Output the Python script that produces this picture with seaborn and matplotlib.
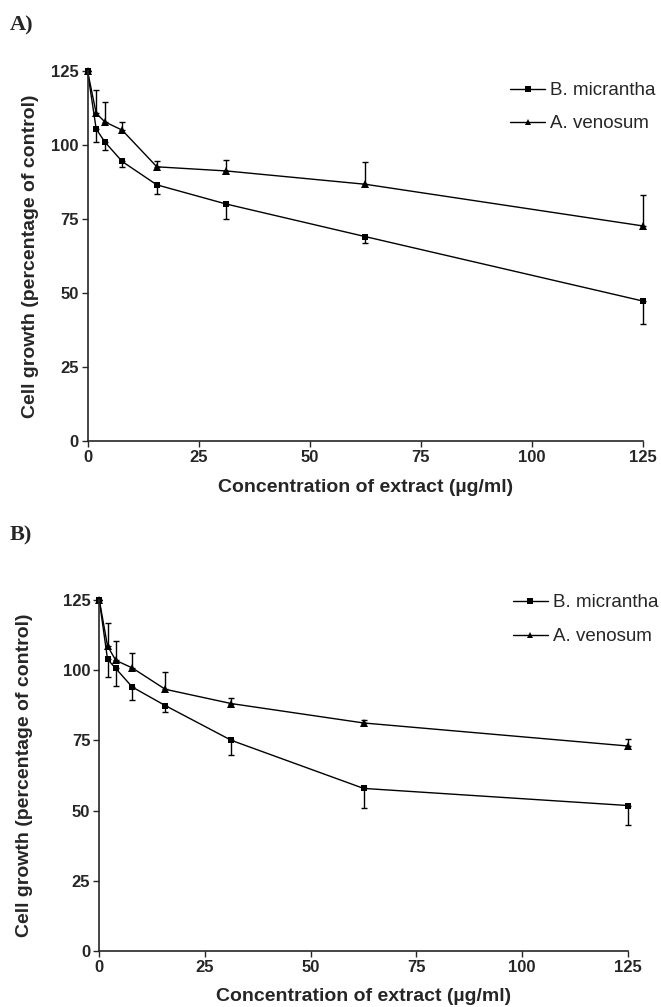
import numpy as np
import pandas as pd
import matplotlib.pyplot as plt
import seaborn as sns

conc = [0, 1.95, 3.9, 7.8, 15.6, 31.25, 62.5, 125]

# panel A
a_micrantha = [125, 105.4, 101.0, 94.4, 86.5, 80.0, 69.0, 47.2]
a_micrantha_err = [0, 4.5, 2.8, 1.7, 3.2, 5.0, 2.3, 7.8]
a_venosum = [125, 110.7, 107.8, 105.0, 92.6, 91.2, 86.7, 72.6]
a_venosum_err = [0, 7.9, 6.8, 2.9, 2.0, 3.7, 7.6, 10.5]

# panel B
b_micrantha = [125, 103.9, 100.6, 94.0, 87.4, 75.0, 57.9, 51.8]
b_micrantha_err = [0, 6.3, 6.3, 4.7, 2.3, 5.3, 7.0, 7.1]
b_venosum = [125, 108.6, 103.5, 100.8, 93.2, 88.1, 81.2, 73.0]
b_venosum_err = [0, 8.3, 7.0, 5.2, 6.0, 2.0, 1.0, 2.5]

samples = ["B. micrantha", "A. venosum"]
yticks = [0, 25, 50, 75, 100, 125]
xticks = [0, 25, 50, 75, 100, 125]

sns.set_style("ticks")
plt.rcParams["font.family"] = ["Liberation Sans", "DejaVu Sans"]

fig = plt.figure(figsize=(6.61, 10.07), dpi=100)


def draw_panel(rect, mic, mic_err, ven, ven_err, legend_anchor, spacing,
               ylab_x, xlab_y):
    ax = fig.add_axes(rect)
    df = pd.DataFrame({
        "Concentration": conc * 2,
        "Growth": mic + ven,
        "Sample": [samples[0]] * len(conc) + [samples[1]] * len(conc),
    })
    # one-sided error bars: squares point down, triangles point up
    ax.errorbar(conc, ven, yerr=[np.zeros(len(ven)), ven_err], fmt="none",
                ecolor="black", elinewidth=1.0, capsize=2.6, capthick=1.0,
                clip_on=False, zorder=2)
    ax.errorbar(conc, mic, yerr=[mic_err, np.zeros(len(mic))], fmt="none",
                ecolor="black", elinewidth=1.0, capsize=2.6, capthick=1.0,
                clip_on=False, zorder=2)
    sns.lineplot(
        data=df.iloc[::-1],
        x="Concentration",
        y="Growth",
        hue="Sample",
        style="Sample",
        hue_order=samples,
        style_order=samples,
        palette={samples[0]: "black", samples[1]: "black"},
        markers={samples[0]: "s", samples[1]: "^"},
        dashes=False,
        markeredgewidth=0,
        linewidth=1.0,
        estimator=None,
        sort=True,
        ax=ax,
    )
    for ln in ax.lines:
        ln.set_clip_on(False)
        ln.set_markersize(5.6 if ln.get_marker() == "^" else 4.6)

    ax.set_xlim(0, 125)
    ax.set_ylim(0, 125)
    ax.set_xticks(xticks)
    ax.set_yticks(yticks)
    ax.tick_params(axis="both", direction="out", length=4, width=1.0,
                   labelsize=12, pad=2.5)
    for lab in ax.get_xticklabels() + ax.get_yticklabels():
        lab.set_fontweight("bold")
    for s in ["left", "bottom"]:
        ax.spines[s].set_linewidth(1.2)
    sns.despine(ax=ax)

    ax.set_xlabel("Concentration of extract (µg/ml)", fontsize=14,
                  fontweight="bold", va="center")
    ax.set_ylabel("Cell growth (percentage of control)", fontsize=14,
                  fontweight="bold", va="center")
    ax.xaxis.set_label_coords(0.5, xlab_y)
    ax.yaxis.set_label_coords(ylab_x, 0.5)

    handles, labels = ax.get_legend_handles_labels()
    leg = ax.legend(handles, labels, loc="upper left",
                    bbox_to_anchor=legend_anchor,
                    bbox_transform=fig.transFigure, frameon=False,
                    fontsize=13.5, handlelength=1.87, handletextpad=0.27,
                    labelspacing=spacing, borderpad=0, borderaxespad=0)
    for h in leg.legend_handles:
        h.set_markersize(3.8)
    return ax


ax_a = draw_panel([0.1324, 0.5624, 0.8404, 0.3671],
                  a_micrantha, a_micrantha_err, a_venosum, a_venosum_err,
                  (0.7716, 0.9185), 0.85, -0.1035, -0.128)
ax_b = draw_panel([0.1502, 0.0556, 0.7998, 0.3486],
                  b_micrantha, b_micrantha_err, b_venosum, b_venosum_err,
                  (0.776, 0.4101), 0.9, -0.142, -0.130)

fig.text(0.015, 0.975, "A)", fontsize=16, fontweight="bold",
         family=["Liberation Serif", "DejaVu Serif"], va="center")
fig.text(0.015, 0.4687, "B)", fontsize=16, fontweight="bold",
         family=["Liberation Serif", "DejaVu Serif"], va="center")

fig.savefig("out.png", dpi=100)
